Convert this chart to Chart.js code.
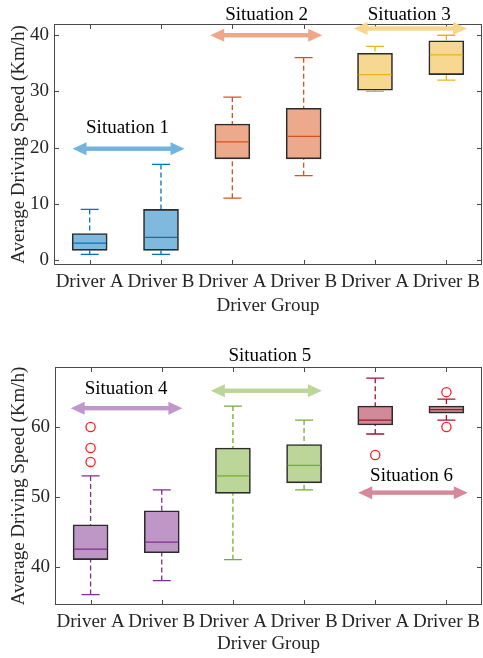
<!DOCTYPE html>
<html>
<head>
<meta charset="utf-8">
<script src="https://cdn.jsdelivr.net/npm/chart.js@4.4.0/dist/chart.umd.min.js"></script>
<style>
  body { margin: 0; background: #fff; width: 483px; height: 658px; position: relative; overflow: hidden; }
  .wrap { position: absolute; left: 0; width: 483px; }
</style>
</head>
<body>
<div class="wrap" style="top:0;height:320px"><canvas id="topChart"></canvas></div>
<div class="wrap" style="top:330px;height:328px"><canvas id="bottomChart"></canvas></div>
<script>
// categories
const drivers = ['Driver A', 'Driver B', 'Driver A', 'Driver B', 'Driver A', 'Driver B'];

// top panel: situations 1-3
const topLow    = [1, 1, 11, 15, 30, 32];
const topQ1     = [1.7, 1.7, 18, 18, 30.2, 33];
const topMedian = [3, 4, 21, 22, 33, 36.5];
const topQ3     = [4.7, 9, 24.2, 27, 36.8, 39];
const topHigh   = [9, 17, 29, 36, 38, 40];
const topOutliers = [[], [], [], [], [], []];
const topTicks  = [0, 10, 20, 30, 40];
const topSituations = ['Situation 1', 'Situation 2', 'Situation 3'];

// bottom panel: situations 4-6
const botLow    = [36, 38, 41, 51, 59, 61];
const botQ1     = [41, 42, 50.5, 52, 60.3, 62];
const botMedian = [42.5, 43.5, 53, 54.5, 61, 62.5];
const botQ3     = [46, 48, 57, 57.5, 63, 63];
const botHigh   = [53, 51, 63, 61, 67, 64];
const botOutliers = [[60, 57, 55], [], [], [], [56], [65, 60]];
const botTicks  = [40, 50, 60];
const botSituations = ['Situation 4', 'Situation 5', 'Situation 6'];

const lineColors = ['#0072BD', '#0072BD', '#D95319', '#D95319', '#EDB120', '#EDB120'];
const lineColors2 = ['#7E2F8E', '#7E2F8E', '#77AC30', '#77AC30', '#A2142F', '#A2142F'];
const fills = ['#80B9DE', '#80B9DE', '#ECA98C', '#ECA98C', '#F6D890', '#F6D890'];
const fills2 = ['#BF97C7', '#BF97C7', '#BBD698', '#BBD698', '#D18A97', '#D18A97'];

const font = { family: "'Liberation Serif', 'Times New Roman', serif", size: 19 };
const textColor = '#262626';

function boxChart(id, s) {
  const xs = drivers.map((d, i) => i + 1);
  const outPts = [];
  s.outliers.forEach((arr, i) => arr.forEach(v => outPts.push({ x: i + 1, y: v })));

  const decor = {
    id: 'decor',
    beforeDatasetsDraw(chart) {
      const { ctx, scales: { x, y } } = chart;
      ctx.save();
      ctx.lineWidth = 1.3;
      xs.forEach((v, i) => {
        const px = x.getPixelForValue(v);
        ctx.strokeStyle = s.lines[i];
        ctx.setLineDash([5, 3]);
        ctx.beginPath();
        ctx.moveTo(px, y.getPixelForValue(s.high[i]));
        ctx.lineTo(px, y.getPixelForValue(s.q3[i]));
        ctx.moveTo(px, y.getPixelForValue(s.low[i]));
        ctx.lineTo(px, y.getPixelForValue(s.q1[i]));
        ctx.stroke();
        ctx.setLineDash([]);
        ctx.beginPath();
        [s.high[i], s.low[i]].forEach(val => {
          const py = y.getPixelForValue(val);
          ctx.moveTo(px - 9, py);
          ctx.lineTo(px + 9, py);
        });
        ctx.stroke();
      });
      ctx.restore();
    },
    afterDatasetsDraw(chart) {
      const { ctx, chartArea: a, scales: { x, y } } = chart;
      ctx.save();
      // medians
      ctx.lineWidth = 1.3;
      xs.forEach((v, i) => {
        const px = x.getPixelForValue(v);
        const py = y.getPixelForValue(s.median[i]);
        ctx.strokeStyle = s.lines[i];
        ctx.beginPath();
        ctx.moveTo(px - 16.5, py);
        ctx.lineTo(px + 16.5, py);
        ctx.stroke();
      });
      // frame and inward ticks
      ctx.strokeStyle = '#4a4a4a';
      ctx.lineWidth = 1;
      ctx.strokeRect(a.left + 0.5, a.top + 0.5, a.right - a.left - 1, a.bottom - a.top - 1);
      ctx.beginPath();
      x.ticks.forEach(t => {
        const px = Math.round(x.getPixelForValue(t.value)) + 0.5;
        ctx.moveTo(px, a.bottom); ctx.lineTo(px, a.bottom - 5);
        ctx.moveTo(px, a.top); ctx.lineTo(px, a.top + 5);
      });
      y.ticks.forEach(t => {
        const py = Math.round(y.getPixelForValue(t.value)) + 0.5;
        ctx.moveTo(a.left, py); ctx.lineTo(a.left + 5, py);
        ctx.moveTo(a.right, py); ctx.lineTo(a.right - 5, py);
      });
      ctx.stroke();
      // situation arrows
      s.arrows.forEach(ar => {
        const x1 = x.getPixelForValue(ar.x1), x2 = x.getPixelForValue(ar.x2);
        const py = y.getPixelForValue(ar.y);
        ctx.fillStyle = ar.color;
        ctx.fillRect(x1 + 12, py - 2.2, x2 - x1 - 24, 4.4);
        ctx.beginPath();
        ctx.moveTo(x1, py); ctx.lineTo(x1 + 14, py - 6.5); ctx.lineTo(x1 + 14, py + 6.5); ctx.closePath();
        ctx.moveTo(x2, py); ctx.lineTo(x2 - 14, py - 6.5); ctx.lineTo(x2 - 14, py + 6.5); ctx.closePath();
        ctx.fill();
      });
      // situation labels
      ctx.fillStyle = '#000';
      ctx.font = font.size + 'px ' + font.family;
      ctx.textAlign = 'center';
      ctx.textBaseline = 'middle';
      s.labels.forEach((lb, i) => {
        ctx.fillText(s.names[i], x.getPixelForValue(lb.x), y.getPixelForValue(lb.y));
      });
      ctx.restore();
    }
  };

  return new Chart(document.getElementById(id), {
    type: 'bar',
    data: {
      datasets: [
        {
          type: 'bar',
          data: xs.map((v, i) => ({ x: v, y: [s.q1[i], s.q3[i]] })),
          backgroundColor: s.fills,
          borderColor: '#2b2b2b',
          borderWidth: 1.6,
          borderSkipped: false,
          barThickness: 35
        },
        {
          type: 'scatter',
          data: outPts,
          pointStyle: 'circle',
          pointRadius: 4.6,
          borderColor: '#ff1e1e',
          backgroundColor: 'rgba(0,0,0,0)',
          borderWidth: 1.3
        }
      ]
    },
    options: {
      responsive: true,
      maintainAspectRatio: false,
      animation: false,
      layout: { autoPadding: false, padding: { top: s.padTop, right: 1, left: 0, bottom: 0 } },
      plugins: { legend: { display: false }, tooltip: { enabled: false } },
      scales: {
        x: {
          type: 'linear', min: 0.5, max: 6.5, offset: false,
          grid: { display: false, drawTicks: false }, border: { display: false },
          afterBuildTicks: sc => { sc.ticks = xs.map(v => ({ value: v })); },
          afterFit: sc => { sc.height = s.xHeight; sc.paddingLeft = 0; sc.paddingRight = 0; },
          ticks: { callback: v => drivers[v - 1], autoSkip: false, maxRotation: 0, padding: 6, font, color: textColor },
          title: { display: true, text: 'Driver Group', font, color: textColor, padding: { top: 0, bottom: 3 } }
        },
        y: {
          min: s.min, max: s.max,
          grid: { display: false, drawTicks: false }, border: { display: false },
          afterBuildTicks: sc => { sc.ticks = s.ticks.map(v => ({ value: v })); },
          afterFit: sc => { sc.width = s.yWidth; sc.paddingTop = 0; sc.paddingBottom = 0; },
          ticks: { padding: 5, font, color: textColor },
          title: { display: true, text: 'Average Driving Speed (Km/h)', font, color: textColor, padding: { top: 8, bottom: 0 } }
        }
      }
    },
    plugins: [decor]
  });
}

boxChart('topChart', {
  low: topLow, q1: topQ1, median: topMedian, q3: topQ3, high: topHigh, outliers: topOutliers,
  ticks: topTicks, names: topSituations, lines: lineColors, fills: fills,
  min: -0.9, max: 42, padTop: 24, xHeight: 55, yWidth: 54,
  arrows: [
    { x1: 0.76, x2: 2.33, y: 19.8, color: '#72B4E0' },
    { x1: 2.69, x2: 4.26, y: 40, color: '#EFA78A' },
    { x1: 4.7, x2: 6.29, y: 41.2, color: '#F7D68E' }
  ],
  labels: [{ x: 1.53, y: 23.4 }, { x: 3.48, y: 43.6 }, { x: 5.48, y: 43.6 }]
});

boxChart('bottomChart', {
  low: botLow, q1: botQ1, median: botMedian, q3: botQ3, high: botHigh, outliers: botOutliers,
  ticks: botTicks, names: botSituations, lines: lineColors2, fills: fills2,
  min: 34.5, max: 68.6, padTop: 37, xHeight: 53, yWidth: 55,
  arrows: [
    { x1: 0.72, x2: 2.29, y: 62.7, color: '#BE98CA' },
    { x1: 2.69, x2: 4.25, y: 65.2, color: '#BBD698' },
    { x1: 4.76, x2: 6.3, y: 50.6, color: '#D6899A' }
  ],
  labels: [{ x: 1.5, y: 65.5 }, { x: 3.52, y: 70.2 }, { x: 5.51, y: 52.95 }]
});
</script>
</body>
</html>
